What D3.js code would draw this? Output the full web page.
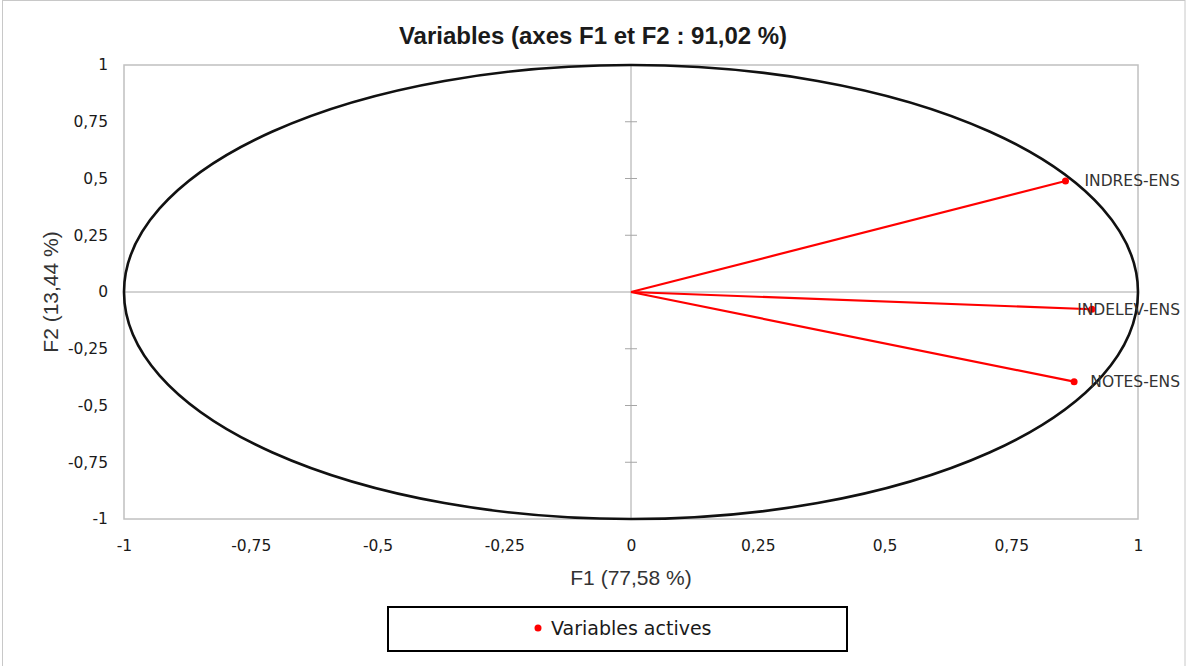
<!DOCTYPE html>
<html>
<head>
<meta charset="utf-8">
<script src="https://cdn.jsdelivr.net/npm/d3@7"></script>
<style>
  body { margin: 0; background: #fff; }
  svg { display: block; }
</style>
</head>
<body>
<svg></svg>
<script>
const svgWidth = 1186
const svgHeight = 666
const margins = { top: 65, bottom: 147, left: 124, right: 48 } // plot box 124..1138 x 65..519
const plotWidth = svgWidth - margins.left - margins.right
const plotHeight = svgHeight - margins.top - margins.bottom

// data
const varNames = ["INDRES-ENS", "INDELEV-ENS", "NOTES-ENS"]
const f1Values = [0.857, 0.909, 0.874]
const f2Values = [0.489, -0.076, -0.395]
const tickValues = [-1, -0.75, -0.5, -0.25, 0, 0.25, 0.5, 0.75, 1]
const tickLabels = ["-1", "-0,75", "-0,5", "-0,25", "0", "0,25", "0,5", "0,75", "1"]

const tickFont = "'DejaVu Sans', sans-serif"
const titleFont = "'Liberation Sans', Arial, sans-serif"

const svg = d3.select("svg")
    .attr("width", svgWidth)
    .attr("height", svgHeight)

// outer chart frame
svg.append("rect")
    .attr("x", 2.5).attr("y", 0.5)
    .attr("width", svgWidth - 3.5).attr("height", svgHeight + 5)
    .attr("fill", "none")
    .attr("stroke", "#c8c8c8")

svg.append("text")
    .text("Variables (axes F1 et F2 : 91,02 %)")
    .attr("x", 593)
    .attr("y", 44)
    .attr("text-anchor", "middle")
    .attr("font-family", titleFont)
    .attr("font-weight", "bold")
    .attr("font-size", 24)
    .attr("fill", "#1a1a1a")

const xScale = d3.scaleLinear().domain([-1, 1]).range([0, plotWidth])
const yScale = d3.scaleLinear().domain([-1, 1]).range([plotHeight, 0])

const plot = svg.append("g")
    .attr("transform", `translate(${margins.left},${margins.top})`)

// plot box
plot.append("rect")
    .attr("x", 0).attr("y", 0)
    .attr("width", plotWidth).attr("height", plotHeight)
    .attr("fill", "none")
    .attr("stroke", "#c0c0c0")
    .attr("stroke-width", 1.5)

// zero axes
plot.append("line")
    .attr("x1", 0).attr("x2", plotWidth)
    .attr("y1", yScale(0)).attr("y2", yScale(0))
    .attr("stroke", "#a6a6a6")
plot.append("line")
    .attr("x1", xScale(0)).attr("x2", xScale(0))
    .attr("y1", 0).attr("y2", plotHeight)
    .attr("stroke", "#a6a6a6")

// cross ticks on the vertical zero axis
plot.selectAll(".vtick")
    .data(tickValues.filter(d => d !== 0 && Math.abs(d) !== 1))
    .join("line")
    .attr("x1", xScale(0) - 6).attr("x2", xScale(0) + 6)
    .attr("y1", d => yScale(d)).attr("y2", d => yScale(d))
    .attr("stroke", "#a6a6a6")

// axis tick labels
const xAxis = d3.axisBottom(xScale)
    .tickValues(tickValues)
    .tickFormat((d, i) => tickLabels[i])
    .tickSize(0)
    .tickPadding(21)
const yAxis = d3.axisLeft(yScale)
    .tickValues(tickValues)
    .tickFormat((d, i) => tickLabels[i])
    .tickSize(0)
    .tickPadding(16)

const gx = plot.append("g")
    .attr("transform", `translate(0,${plotHeight})`)
    .call(xAxis)
const gy = plot.append("g").call(yAxis)
for (const g of [gx, gy]) {
    g.select(".domain").remove()
    g.selectAll("text")
        .attr("font-family", tickFont)
        .attr("font-size", 15.5)
        .attr("fill", "#1a1a1a")
}

// correlation circle
plot.append("ellipse")
    .attr("cx", xScale(0)).attr("cy", yScale(0))
    .attr("rx", xScale(1) - xScale(0))
    .attr("ry", yScale(-1) - yScale(0))
    .attr("fill", "none")
    .attr("stroke", "#111")
    .attr("stroke-width", 2.6)

// arrows
plot.selectAll(".arrow")
    .data(varNames)
    .join("line")
    .attr("x1", xScale(0)).attr("y1", yScale(0))
    .attr("x2", (d, i) => xScale(f1Values[i]))
    .attr("y2", (d, i) => yScale(f2Values[i]))
    .attr("stroke", "#ff0000")
    .attr("stroke-width", 2.2)

plot.selectAll(".pt")
    .data(varNames)
    .join("circle")
    .attr("cx", (d, i) => xScale(f1Values[i]))
    .attr("cy", (d, i) => yScale(f2Values[i]))
    .attr("r", 3.5)
    .attr("fill", "#ff0000")

// labels: right of the point, pushed back in when they would pass the frame
const labelRight = 1180 - margins.left
plot.selectAll(".lab")
    .data(varNames)
    .join("text")
    .text(d => d)
    .attr("font-family", tickFont)
    .attr("font-size", 15.5)
    .attr("fill", "#333")
    .attr("y", (d, i) => yScale(f2Values[i]) + 5.5)
    .attr("x", function (d, i) {
        const w = this.getComputedTextLength()
        return Math.min(xScale(f1Values[i]) + 19, labelRight - w)
    })

// axis titles
svg.append("text")
    .text("F1 (77,58 %)")
    .attr("x", margins.left + xScale(0))
    .attr("y", 585)
    .attr("text-anchor", "middle")
    .attr("font-family", titleFont)
    .attr("font-size", 21)
    .attr("fill", "#333")

svg.append("text")
    .text("F2 (13,44 %)")
    .attr("transform", `translate(58,${margins.top + yScale(0)}) rotate(-90)`)
    .attr("text-anchor", "middle")
    .attr("font-family", titleFont)
    .attr("font-size", 21)
    .attr("fill", "#333")

// legend
const legend = svg.append("g").attr("transform", "translate(388,607)")
legend.append("rect")
    .attr("width", 459).attr("height", 44)
    .attr("fill", "#fff")
    .attr("stroke", "#000")
    .attr("stroke-width", 2)
legend.append("circle")
    .attr("cx", 150).attr("cy", 21)
    .attr("r", 3.5)
    .attr("fill", "#ff0000")
legend.append("text")
    .text("Variables actives")
    .attr("x", 163).attr("y", 28)
    .attr("font-family", tickFont)
    .attr("font-size", 19)
    .attr("fill", "#1a1a1a")
</script>
</body>
</html>
